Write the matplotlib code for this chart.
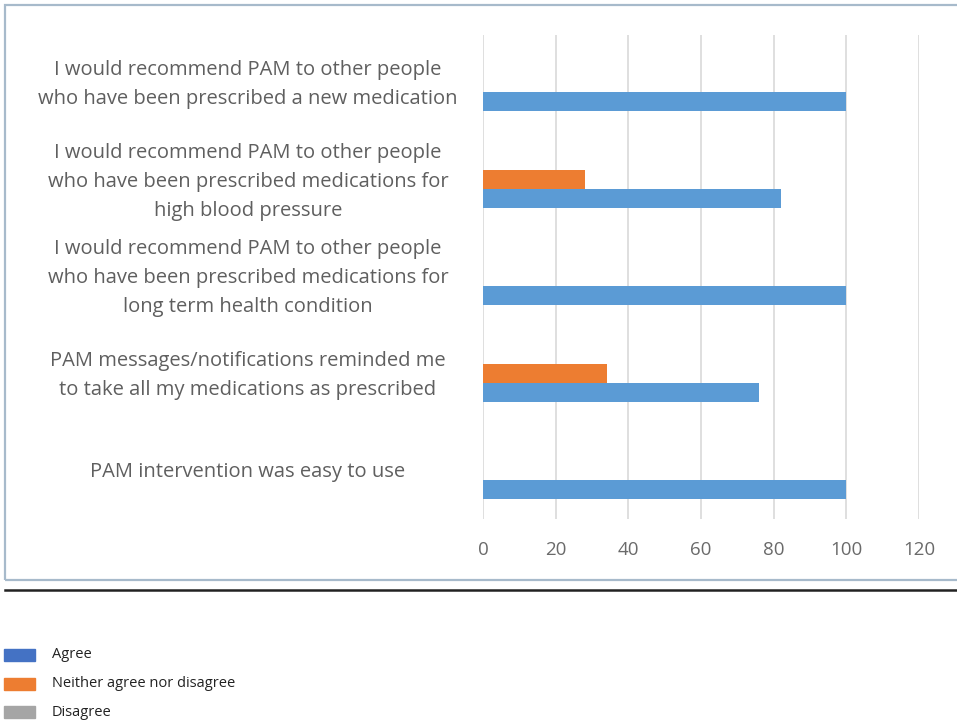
import numpy as np
import matplotlib.pyplot as plt
from matplotlib.patches import Rectangle

categories = [
    'PAM intervention was easy to use',
    'PAM messages/notifications reminded me\nto take all my medications as prescribed',
    'I would recommend PAM to other people\nwho have been prescribed medications for\nlong term health condition',
    'I would recommend PAM to other people\nwho have been prescribed medications for\nhigh blood pressure',
    'I would recommend PAM to other people\nwho have been prescribed a new medication',
]
agree = [100, 76, 100, 82, 100]
neither = [0, 34, 0, 28, 0]
disagree = [0, 0, 0, 0, 0]
series_names = ['Agree', 'Neither agree nor disagree', 'Disagree']
bar_colors = ['#5B9BD5', '#ED7D31', '#A5A5A5']
legend_colors = ['#4472C4', '#ED7D31', '#A5A5A5']

plt.rcParams['font.family'] = ['Open Sans', 'DejaVu Sans']

fig = plt.figure(figsize=(9.57, 7.25), dpi=100)
W, H = 957, 725

# outer chart frame
fig.patches.append(Rectangle((5 / W, 1 - 580 / H), 1.0, 575 / H, transform=fig.transFigure,
                             fill=False, edgecolor='#A7BACB', linewidth=1.6))
fig.add_artist(plt.Line2D([5 / W, 1.0], [1 - 590 / H] * 2, transform=fig.transFigure,
                          color='#222222', linewidth=1.8))

ax = fig.add_axes([483 / W, 1 - 518.5 / H, (919 - 483) / W, (518.5 - 34.5) / H])
y = np.arange(len(categories))
h = 0.196
ax.barh(y - h, agree, height=h, color=bar_colors[0], label=series_names[0], zorder=3)
ax.barh(y, neither, height=h, color=bar_colors[1], label=series_names[1], zorder=3)
ax.barh(y + h, disagree, height=h, color=bar_colors[2], label=series_names[2], zorder=3)

ax.set_xlim(0, 120)
ax.set_ylim(-0.5, len(categories) - 0.5)
ax.set_xticks(range(0, 121, 20))
ax.grid(axis='x', color='#D9D9D9', linewidth=1.2, zorder=0)
for s in ax.spines.values():
    s.set_visible(False)
ax.tick_params(axis='x', length=0, labelsize=13.5, labelcolor='#6a6a6a', pad=16)
ax.set_yticks(y)
ax.set_yticklabels([])
ax.tick_params(axis='y', length=0)

for yi, lab in zip(y, categories):
    ax.text(-0.539, yi - 0.02, lab, transform=ax.get_yaxis_transform(), ha='center', va='center',
            fontsize=14.5, color='#5f5f5f', linespacing=1.6)

# legend drawn below the frame
for i, (name, c) in enumerate(zip(series_names, legend_colors)):
    yy = 655 + i * 28.5
    fig.patches.append(Rectangle((4 / W, 1 - (yy + 6) / H), 31 / W, 12 / H,
                                 transform=fig.transFigure, color=c))
    fig.text(52 / W, 1 - yy / H, name, fontsize=10.5, color='#222222', va='center', ha='left')

fig.savefig('out.png', dpi=100)
